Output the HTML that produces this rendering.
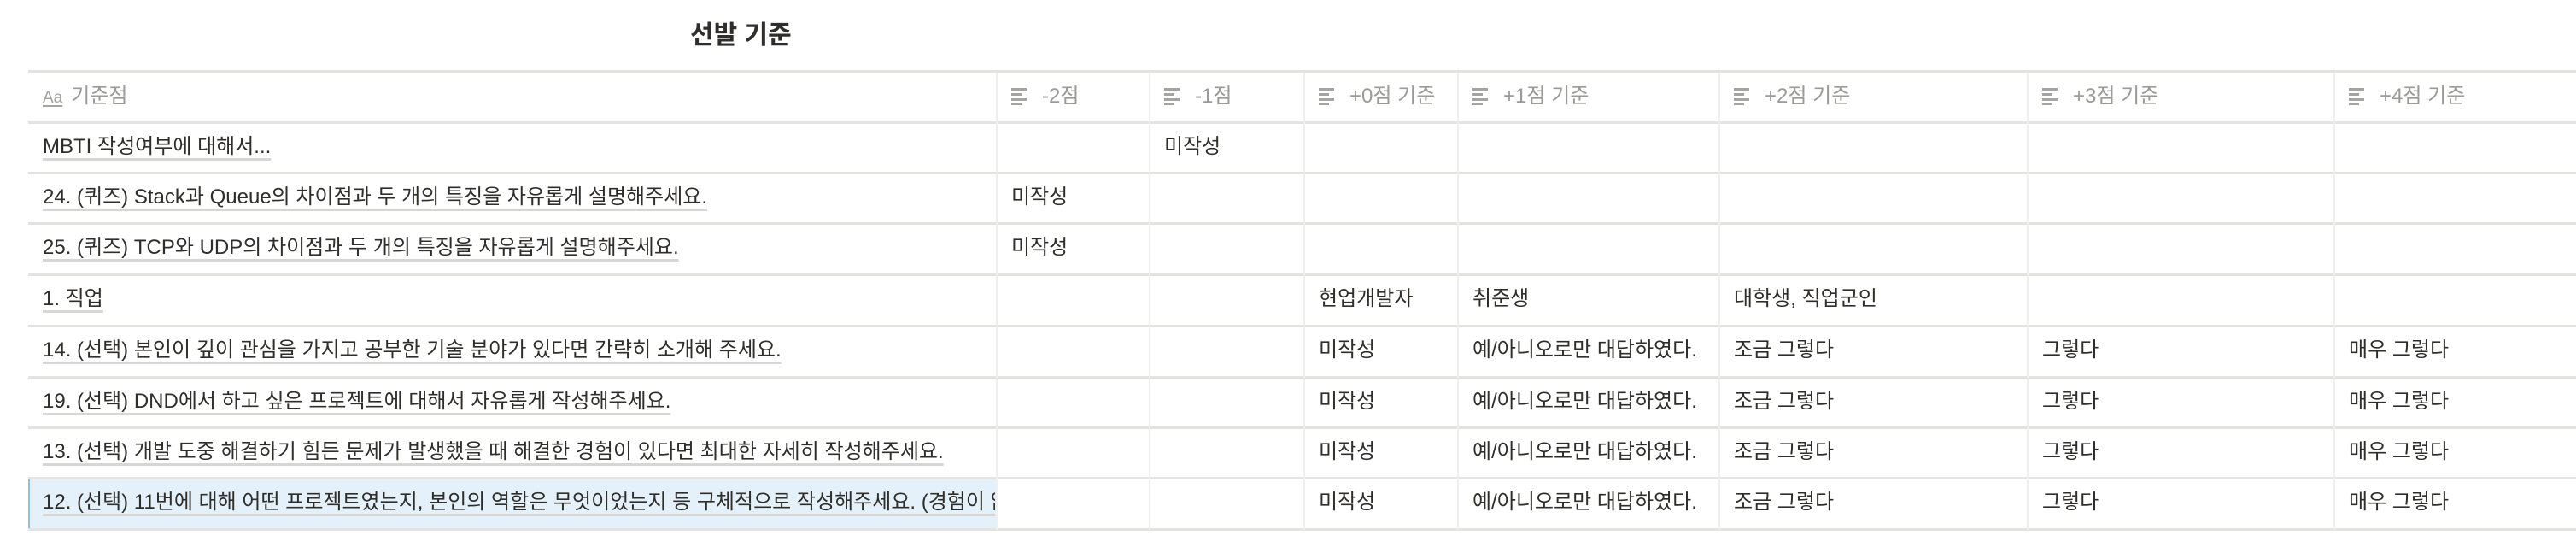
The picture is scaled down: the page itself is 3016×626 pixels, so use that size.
<!DOCTYPE html>
<html><head><meta charset="utf-8">
<style>
html,body{margin:0;padding:0;background:#fff;}
body{width:3016px;height:626px;overflow:hidden;position:relative;font-family:"Liberation Sans","Noto Sans CJK KR",sans-serif;color:#2f2e2a;}
#title{position:absolute;left:808px;top:20px;font-size:30px;font-weight:bold;line-height:44px;white-space:nowrap;}
.hl{position:absolute;left:33px;right:0;height:3px;background:#e3e3e2;}
.vl{position:absolute;width:2px;background:#efefee;top:85px;height:535px;}
.cell{position:absolute;font-size:24px;line-height:32px;white-space:nowrap;overflow:hidden;}
.hd{color:#9b9a97;}
.u{text-decoration:underline;text-decoration-color:#d6d6d4;text-decoration-thickness:3px;text-underline-offset:6px;}
.ico{display:inline-block;width:18px;height:20px;vertical-align:-3px;margin-right:18px;position:relative;}
.ico i{position:absolute;left:0;height:3px;background:#a5a4a1;}
.aa{font-size:19px;color:#a5a4a1;margin-right:10px;text-decoration:underline;text-decoration-thickness:2px;text-underline-offset:3px;}
#sel{position:absolute;left:33px;top:559px;width:1131px;height:58px;background:#e4f1fa;border:2px solid #8dc0e1;}
</style></head>
<body>
<div id="title">선발 기준</div>
<div id="sel"></div>
<div id="grid"></div>
<script>
const colX=[33,1167,1346,1527,1707,2013,2374,2733,3016];
const rowY=[83,143,202,261,321,381,441,500,559,619];
const headers=["기준점","-2점","-1점","+0점 기준","+1점 기준","+2점 기준","+3점 기준","+4점 기준"];
const rows=[
["MBTI 작성여부에 대해서...","","미작성","","","","",""],
["24. (퀴즈) Stack과 Queue의 차이점과 두 개의 특징을 자유롭게 설명해주세요.","미작성","","","","","",""],
["25. (퀴즈) TCP와 UDP의 차이점과 두 개의 특징을 자유롭게 설명해주세요.","미작성","","","","","",""],
["1. 직업","","","현업개발자","취준생","대학생, 직업군인","",""],
["14. (선택) 본인이 깊이 관심을 가지고 공부한 기술 분야가 있다면 간략히 소개해 주세요.","","","미작성","예/아니오로만 대답하였다.","조금 그렇다","그렇다","매우 그렇다"],
["19. (선택) DND에서 하고 싶은 프로젝트에 대해서 자유롭게 작성해주세요.","","","미작성","예/아니오로만 대답하였다.","조금 그렇다","그렇다","매우 그렇다"],
["13. (선택) 개발 도중 해결하기 힘든 문제가 발생했을 때 해결한 경험이 있다면 최대한 자세히 작성해주세요.","","","미작성","예/아니오로만 대답하였다.","조금 그렇다","그렇다","매우 그렇다"],
["12. (선택) 11번에 대해 어떤 프로젝트였는지, 본인의 역할은 무엇이었는지 등 구체적으로 작성해주세요. (경험이 없다면 생략)","","","미작성","예/아니오로만 대답하였다.","조금 그렇다","그렇다","매우 그렇다"]
];
const g=document.getElementById('grid');
for(let i=0;i<rowY.length;i++){
  const h=document.createElement('div');
  h.className='hl';h.style.top=(rowY[i]-1)+'px';
  
  
  g.appendChild(h);
}
for(let j=1;j<colX.length-1;j++){
  const v=document.createElement('div');
  v.className='vl';v.style.left=(colX[j]-1)+'px';
  
  
  g.appendChild(v);
}
headers.forEach((t,j)=>{
  const c=document.createElement('div');
  c.className='cell hd';
  c.style.left=(colX[j]+17)+'px';
  c.style.top=(rowY[0]+14)+'px';
  c.style.width=(colX[j+1]-colX[j]-20)+'px';
  
  
  if(j==0){c.innerHTML='<span class="aa">Aa</span>'+t;}
  else{c.innerHTML='<span class="ico"><i style="top:0;width:18px"></i><i style="top:6px;width:12px"></i><i style="top:12px;width:18px"></i><i style="top:18px;width:12px;height:2px"></i></span>'+t;}
  g.appendChild(c);
});
rows.forEach((r,i)=>{
  r.forEach((t,j)=>{
    if(!t)return;
    const c=document.createElement('div');
    c.className='cell';
    c.style.left=(colX[j]+17)+'px';
    c.style.top=((rowY[i+1]+rowY[i+2])/2-17)+'px';
    c.style.width=(colX[j+1]-colX[j]-19)+'px';
    
    
    if(j==0){c.innerHTML='<span class="u">'+t+'</span>';}else{c.textContent=t;}
    g.appendChild(c);
  });
});
</script>
</body></html>
